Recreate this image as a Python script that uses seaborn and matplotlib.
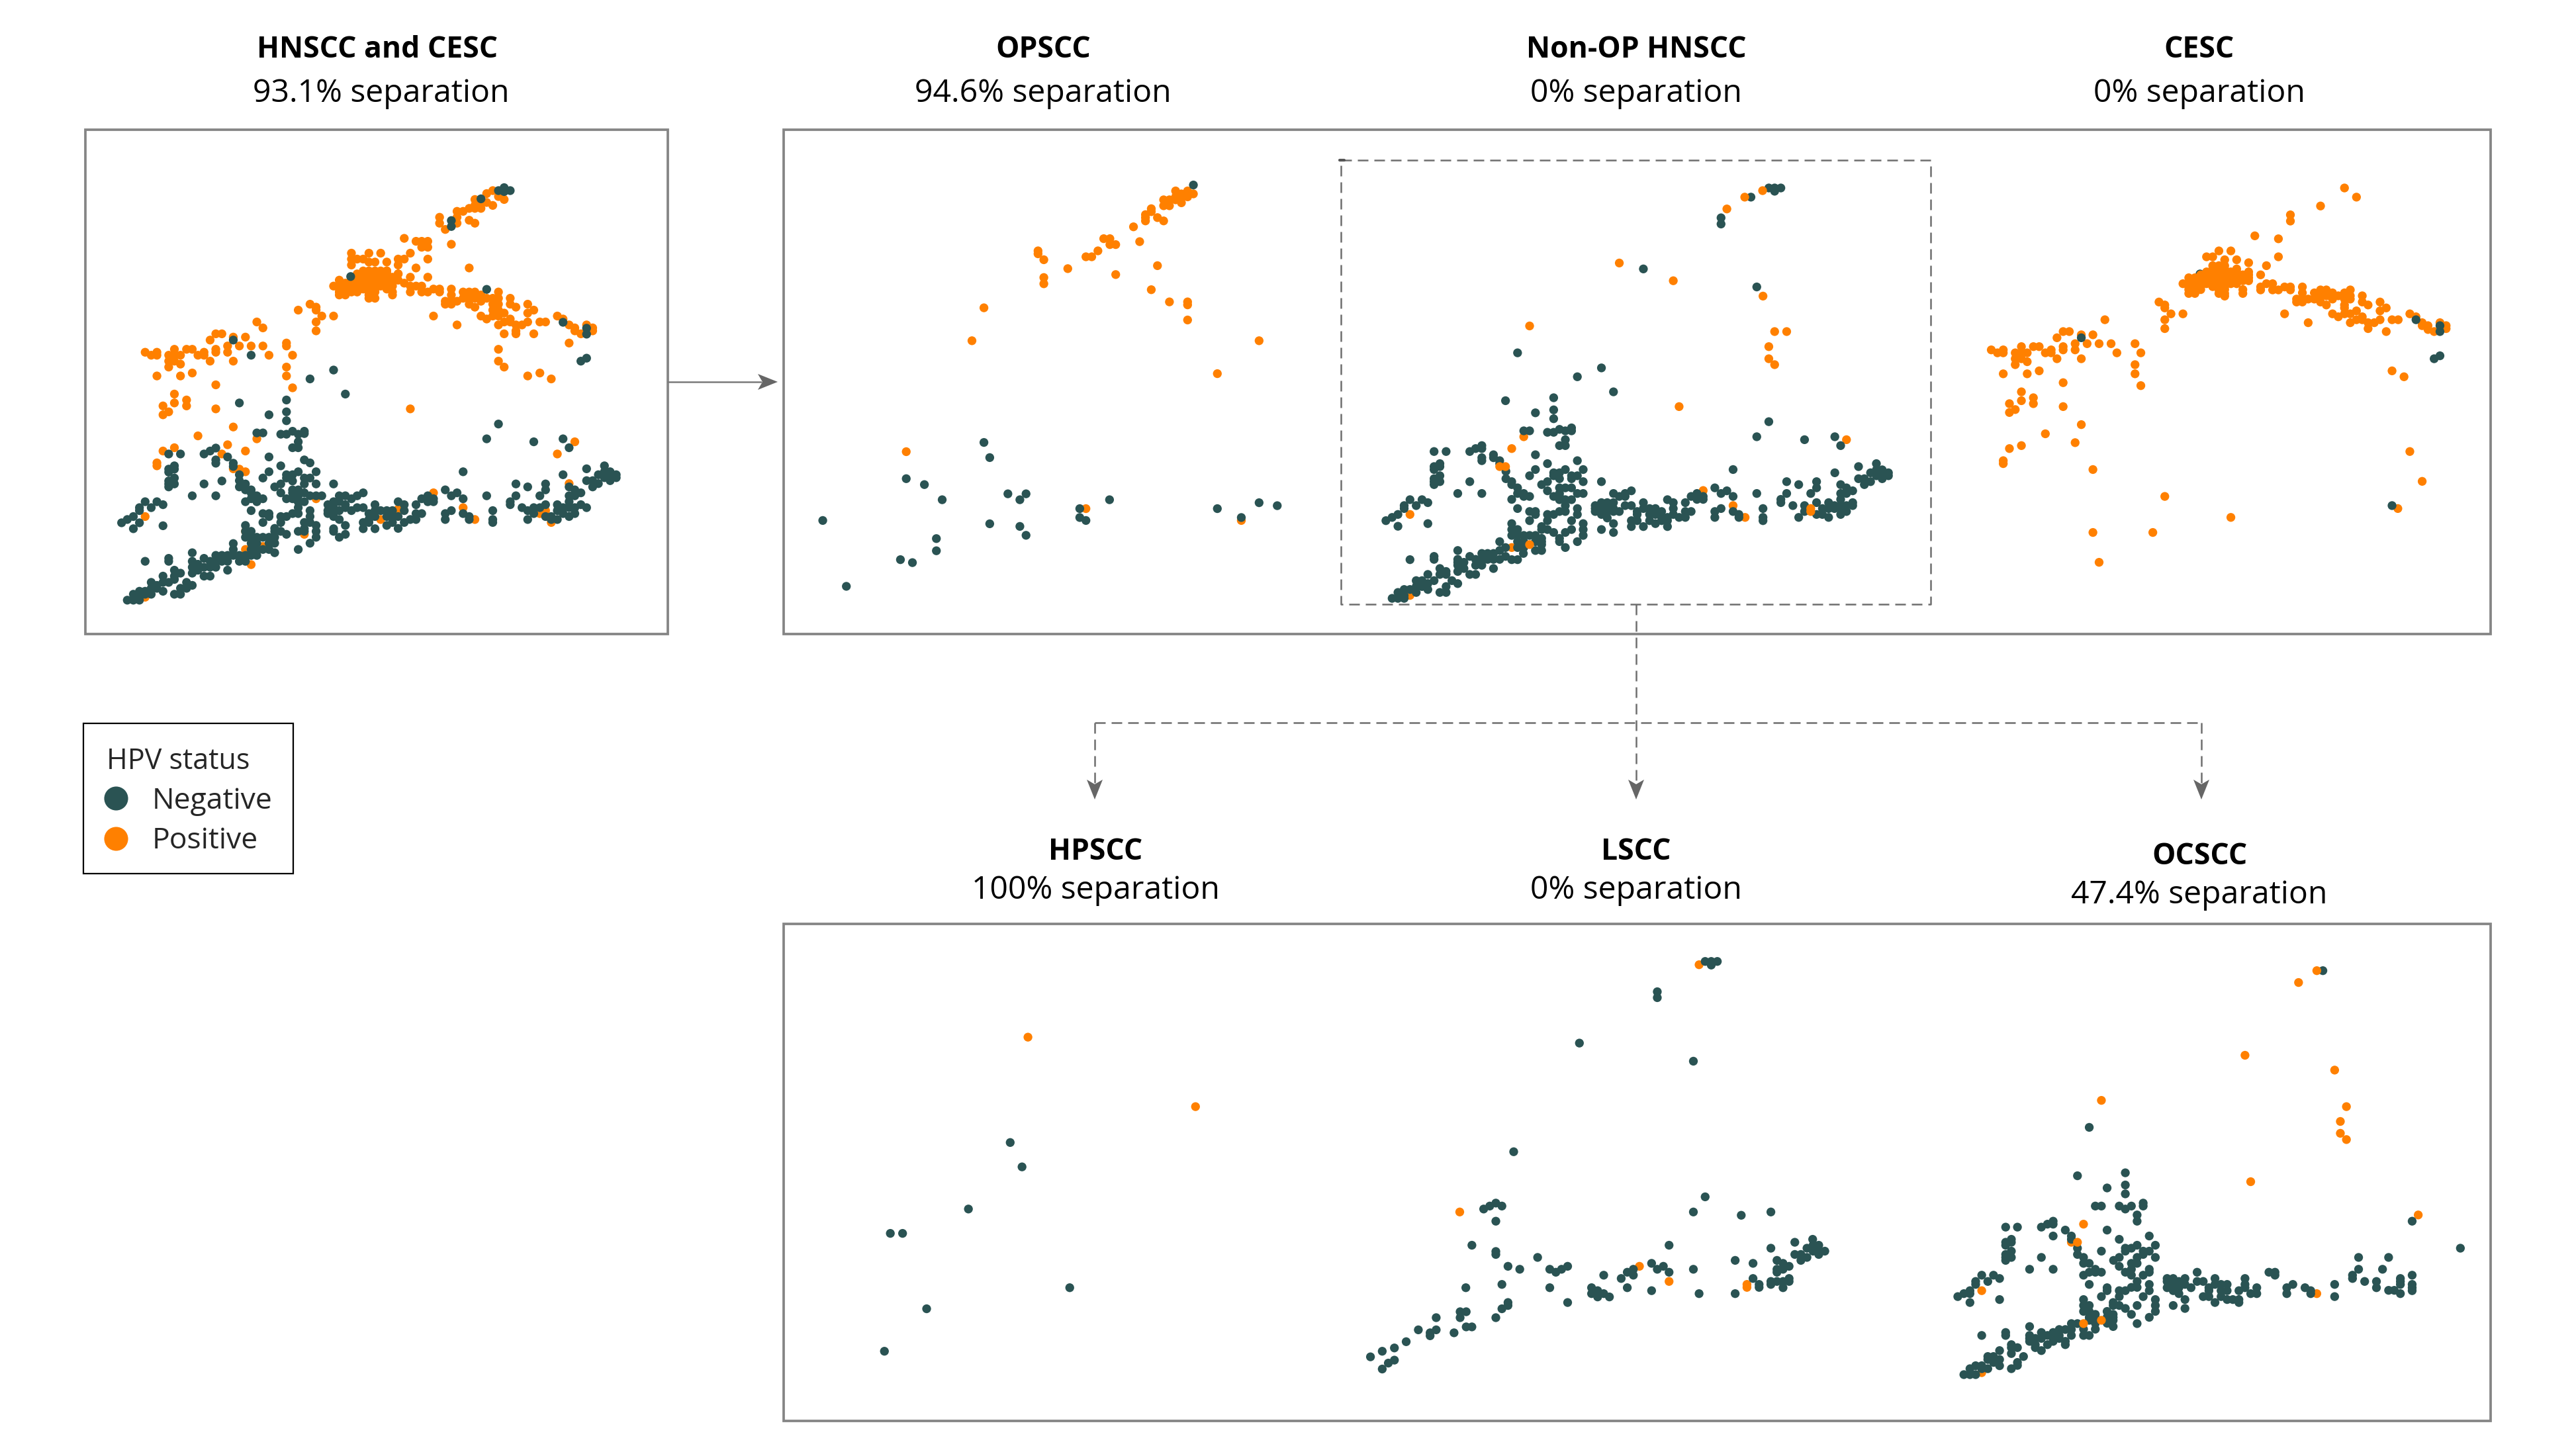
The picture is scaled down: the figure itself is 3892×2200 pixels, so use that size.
import pandas as pd
import seaborn as sns
import matplotlib.pyplot as plt
from matplotlib.lines import Line2D
from matplotlib.patches import Polygon, Rectangle

hnscc_neg = [(1103,197),(1118,188),(1118,200),(1134,197),(1057,222),(979,288),(979,306),(714,458),(1072,497),(1273,597),(1335,615),(1335,633),(1320,715),(1335,706),(405,651),(452,697),(669,742),(607,769),(700,815),(545,833),(421,842),(545,869),(499,878),(545,896),(1103,906),(467,933),(483,933),(530,937),(545,937),(561,928),(576,937),(592,928),(592,935),(1072,951),(1196,960),(1273,951),(576,960),(576,978),(561,978),(1289,978),(235,997),(266,997),(328,997),(344,988),(359,979),(359,1015),(359,1025),(390,1006),(405,1025),(405,1035),(499,1006),(530,1033),(592,1015),(607,1024),(250,1033),(235,1043),(235,1052),(250,1043),(623,1051),(1010,1051),(1335,1042),(1273,1060),(1382,1033),(1366,1060),(1382,1051),(1397,1051),(1413,1060),(1413,1069),(1397,1069),(1382,1069),(1397,1078),(1335,1078),(1351,1078),(1366,1087),(1351,1097),(250,1070),(250,1088),(235,1079),(235,1088),(235,1097),(328,1088),(375,1079),(421,1060),(421,1078),(421,1097),(437,1088),(437,1106),(452,1106),(483,1070),(499,1051),(545,1060),(561,1060),(576,1051),(545,1070),(561,1079),(592,1070),(607,1070),(592,1088),(623,1088),(514,1097),(530,1088),(530,1115),(561,1106),(561,1115),(576,1106),(592,1115),(607,1124),(623,1124),(638,1124),(545,1133),(561,1133),(576,1124),(592,1142),(576,1142),(669,1088),(1149,1088),(1227,1088),(1227,1106),(1180,1097),(1289,1097),(1304,1106),(1320,1115),(1289,1124),(1304,1124),(963,1106),(994,1115),(979,1124),(1010,1133),(1072,1124),(1149,1124),(1212,1124),(747,1115),(731,1124),(716,1133),(700,1124),(684,1124),(297,1124),(359,1124),(452,1115),(452,1133),(467,1124),(483,1133),(437,1142),(467,1142),(173,1142),(204,1142),(220,1151),(158,1160),(189,1160),(158,1169),(142,1187),(126,1196),(111,1206),(158,1206),(142,1224),(220,1215),(452,1169),(483,1178),(499,1178),(483,1205),(499,1187),(530,1187),(545,1187),(561,1178),(576,1178),(576,1160),(576,1142),(607,1169),(607,1187),(592,1205),(607,1205),(530,1205),(623,1214),(592,1224),(623,1232),(592,1232),(623,1250),(576,1232),(607,1268),(576,1287),(545,1241),(530,1232),(514,1223),(514,1232),(437,1214),(452,1232),(437,1232),(437,1250),(452,1250),(467,1250),(483,1250),(499,1250),(514,1250),(452,1268),(467,1268),(499,1268),(514,1268),(452,1287),(467,1287),(483,1287),(499,1287),(514,1297),(467,1305),(437,1305),(452,1305),(421,1305),(421,1323),(437,1323),(405,1269),(405,1287),(405,1305),(390,1305),(375,1305),(359,1305),(344,1323),(328,1314),(297,1297),(297,1323),(297,1341),(297,1359),(312,1332),(312,1350),(328,1341),(344,1341),(359,1323),(375,1323),(390,1323),(390,1350),(359,1341),(328,1368),(344,1368),(173,1323),(235,1314),(235,1323),(220,1368),(250,1350),(250,1368),(266,1359),(250,1378),(235,1387),(282,1387),(297,1396),(282,1405),(266,1405),(266,1423),(250,1423),(220,1387),(220,1414),(204,1396),(189,1387),(189,1405),(204,1405),(173,1414),(189,1423),(173,1423),(158,1414),(142,1423),(158,1432),(126,1441),(142,1441),(158,1441),(654,1151),(669,1142),(684,1142),(700,1151),(731,1160),(747,1160),(778,1151),(839,1142),(855,1151),(855,1169),(886,1151),(901,1133),(917,1124),(932,1133),(917,1142),(932,1142),(654,1169),(654,1178),(669,1160),(669,1178),(684,1169),(700,1160),(716,1169),(778,1169),(793,1169),(809,1169),(824,1169),(684,1196),(669,1187),(762,1178),(762,1196),(778,1187),(809,1187),(824,1187),(839,1187),(855,1205),(886,1178),(901,1178),(871,1196),(886,1196),(747,1205),(762,1205),(809,1214),(824,1205),(839,1223),(747,1224),(778,1224),(669,1224),(669,1232),(700,1214),(684,1250),(700,1241),(963,1178),(979,1169),(963,1196),(1010,1178),(1026,1187),(1026,1196),(1088,1169),(1088,1196),(1088,1205),(1134,1142),(1134,1151),(1165,1160),(1180,1169),(1196,1160),(1212,1160),(1227,1151),(1258,1151),(1273,1160),(1289,1142),(1289,1160),(1304,1160),(1320,1151),(1335,1160),(1196,1178),(1180,1196),(1242,1187),(1227,1187),(1258,1196),(1242,1196),(1258,1169),(1289,1187),(1304,1178),(1273,1178)]
hnscc_pos = [(1088,197),(1072,206),(1103,215),(1118,224),(1088,242),(1041,224),(1057,233),(1041,242),(1072,233),(1057,251),(1041,251),(1026,251),(1010,260),(994,260),(994,278),(948,278),(1026,287),(1041,296),(994,296),(948,296),(963,315),(855,342),(886,351),(901,351),(917,351),(901,369),(917,369),(979,360),(871,387),(793,387),(762,387),(716,387),(716,405),(731,405),(747,405),(762,414),(778,414),(809,414),(839,405),(855,405),(839,423),(716,423),(917,405),(886,432),(1026,432),(809,441),(839,450),(917,460),(871,460),(871,487),(886,487),(901,487),(871,505),(901,505),(917,505),(932,496),(948,496),(948,505),(979,496),(979,514),(979,533),(963,533),(963,542),(979,542),(994,533),(1010,505),(1010,524),(1026,505),(1041,505),(1026,524),(1041,524),(1057,514),(1072,524),(1088,524),(1103,505),(1103,524),(1103,542),(1088,542),(1103,560),(1088,560),(1026,542),(1041,551),(1057,533),(1134,524),(1134,542),(1149,551),(1180,542),(1196,560),(1180,569),(932,578),(1057,578),(1072,587),(1088,578),(1118,569),(1103,578),(1118,596),(1103,605),(1134,587),(1134,596),(1149,605),(1165,605),(1180,596),(1212,596),(1227,596),(994,605),(1118,632),(1149,623),(1149,632),(1196,632),(1258,578),(1273,587),(1289,605),(1304,614),(1304,623),(1320,632),(1335,605),(1351,614),(1351,623),(1289,660),(1103,679),(1103,715),(1118,733),(1180,760),(1212,751),(1242,769),(576,560),(607,542),(623,551),(623,560),(638,578),(669,578),(623,596),(623,623),(467,596),(483,614),(359,632),(375,632),(344,651),(405,642),(437,642),(390,669),(421,669),(452,669),(483,669),(545,660),(545,669),(173,688),(189,697),(204,688),(204,697),(250,679),(282,679),(297,679),(235,697),(250,697),(266,697),(312,697),(328,688),(328,697),(359,679),(359,688),(390,688),(499,697),(561,697),(235,715),(250,715),(235,733),(266,724),(344,715),(405,715),(204,760),(266,760),(297,751),(545,733),(545,760),(359,787),(561,796),(250,815),(282,833),(282,851),(250,842),(220,851),(235,869),(220,878),(359,860),(871,860),(405,915),(312,942),(467,951),(390,969),(250,978),(220,988),(437,988),(375,997),(204,1024),(204,1033),(405,1042),(421,1043),(437,1051),(1304,960),(1258,997),(1289,1087),(932,1115),(623,1133),(1010,1160),(1227,1169),(173,1187),(1212,1178),(793,1196),(839,1165),(1041,1196),(1242,1205),(592,1241),(437,1287),(483,1278),(452,1333),(173,1432),(437,1232)]
hnscc_core = {441:[747,762,778,793,809], 450:[731,747,762,778,793,809,839], 460:[716,731,747,762,778,793,809,824],
              469:[684,716,731,747,762,778,793,809,824,839], 478:[700,716,731,747,762,778,793,809,824,855],
              487:[669,684,700,716,731,747,762,778,793,809,824], 496:[684,700,716,731,747,762,778,809],
              505:[684,716,731,762,778,824], 514:[684,700,762,824], 524:[778,762]}

opscc_neg = [(1136,180),(559,962),(575,1008),(345,1072),(395,1090),(444,1136),(625,1118),(675,1118),(658,1136),(823,1163),(905,1136),(823,1190),(840,1199),(1202,1163),(1268,1190),(1317,1145),(1367,1154),(115,1199),(575,1209),(658,1217),(675,1244),(428,1254),(428,1291),(329,1318),(362,1327),(180,1399)]
opscc_pos = [(1087,198),(1120,198),(1103,207),(1136,207),(1087,216),(1120,216),(1054,225),(1070,225),(1103,216),(1087,225),(1054,243),(1070,243),(1103,234),(1020,252),(1020,261),(1004,270),(1004,279),(1037,279),(1004,289),(1054,289),(971,307),(889,343),(906,343),(906,361),(922,361),(988,352),(873,380),(708,380),(708,389),(840,398),(856,398),(724,407),(1037,425),(790,434),(922,452),(724,461),(724,480),(1020,498),(1070,535),(1120,535),(1120,544),(559,553),(1120,590),(526,653),(1317,653),(1202,753),(345,990),(840,1163),(1268,1199)]

nonop_neg = [(1112,121),(1127,121),(1143,121),(1127,132),(1066,152),(989,222),(989,243),(789,395),(1081,456),(465,679),(681,730),(619,760),(712,811),(558,831),(434,841),(558,872),(511,882),(558,902),(1112,912),(481,943),(496,943),(542,948),(558,948),(573,938),(588,943),(604,933),(604,943),(1081,963),(1204,973),(1282,963),(588,973),(573,993),(588,993),(1297,993),(250,1013),(281,1013),(342,1013),(357,1003),(373,993),(373,1003),(373,1034),(373,1044),(403,1024),(403,1034),(419,1044),(419,1054),(511,1024),(619,1044),(542,1054),(265,1054),(250,1064),(265,1064),(250,1074),(1020,1074),(1343,1064),(1389,1054),(1374,1085),(1389,1075),(1404,1075),(1420,1085),(1420,1095),(1404,1085),(1389,1095),(1404,1105),(1282,1085),(435,1080),(435,1105),(511,1074),(558,1085),(573,1085),(588,1074),(634,1074),(558,1095),(573,1105),(604,1095),(619,1095),(604,1105),(496,1095),(265,1095),(250,1105),(265,1115),(250,1115),(250,1125),(342,1115),(681,1115),(450,1115),(542,1115),(527,1125),(634,1115),(1158,1115),(1235,1115),(1343,1105),(1358,1105),(1374,1115),(1358,1125),(1189,1125),(1235,1136),(1297,1125),(1312,1136),(1328,1146),(1297,1155),(1312,1155),(973,1136),(1004,1146),(989,1155),(1020,1165),(1081,1155),(1158,1155),(1220,1155),(758,1146),(742,1155),(727,1165),(712,1155),(742,1165),(311,1155),(373,1155),(465,1136),(450,1125),(465,1155),(481,1155),(496,1165),(481,1165),(450,1175),(573,1136),(588,1136),(542,1146),(604,1136),(573,1155),(558,1165),(573,1165),(573,1176),(588,1176),(619,1155),(634,1155),(604,1176),(188,1176),(219,1176),(234,1186),(173,1196),(204,1196),(173,1206),(157,1226),(142,1236),(126,1247),(157,1266),(234,1257),(465,1206),(496,1216),(511,1216),(511,1226),(496,1247),(542,1226),(558,1226),(573,1216),(588,1216),(588,1196),(619,1206),(619,1226),(542,1247),(604,1247),(634,1257),(634,1277),(634,1297),(604,1277),(588,1287),(619,1318),(588,1338),(558,1287),(542,1277),(527,1267),(527,1277),(450,1257),(450,1277),(465,1277),(450,1297),(465,1297),(481,1297),(496,1297),(511,1297),(527,1307),(527,1318),(465,1318),(481,1318),(511,1318),(527,1328),(573,1307),(573,1318),(465,1338),(481,1338),(511,1348),(527,1348),(480,1358),(419,1318),(434,1338),(419,1348),(403,1358),(388,1358),(373,1358),(419,1378),(403,1378),(450,1379),(465,1379),(434,1368),(311,1348),(188,1379),(250,1368),(250,1378),(342,1368),(311,1378),(311,1388),(311,1398),(327,1388),(357,1378),(373,1378),(388,1378),(327,1409),(357,1398),(373,1398),(403,1409),(311,1419),(342,1429),(357,1429),(234,1429),(265,1409),(281,1419),(265,1429),(281,1429),(250,1450),(234,1460),(296,1450),(311,1460),(281,1470),(265,1490),(281,1490),(204,1450),(219,1450),(204,1470),(234,1480),(219,1470),(188,1480),(204,1490),(173,1480),(157,1490),(173,1500),(142,1510),(157,1510),(173,1510),(665,1196),(681,1186),(696,1186),(712,1186),(665,1206),(681,1206),(696,1206),(712,1206),(665,1216),(681,1216),(696,1216),(712,1216),(727,1216),(742,1196),(758,1196),(789,1186),(681,1226),(696,1238),(712,1257),(681,1277),(712,1287),(758,1247),(758,1267),(773,1216),(773,1226),(773,1247),(789,1206),(805,1206),(820,1206),(836,1216),(851,1176),(866,1186),(866,1206),(805,1226),(820,1226),(836,1236),(851,1236),(866,1226),(805,1247),(820,1257),(836,1247),(851,1247),(851,1267),(789,1267),(881,1236),(897,1186),(897,1216),(912,1216),(897,1236),(912,1165),(927,1155),(943,1165),(927,1175),(943,1175),(973,1216),(989,1206),(973,1236),(1020,1216),(1035,1226),(1035,1236),(1097,1206),(1097,1236),(1097,1247),(1143,1175),(1143,1186),(1174,1196),(1204,1196),(1204,1216),(1189,1236),(1235,1186),(1235,1226),(1250,1206),(1250,1226),(1266,1186),(1281,1196),(1297,1175),(1297,1196),(1312,1196),(1328,1186),(1328,1196),(1266,1206),(1281,1206),(1297,1206),(1312,1216),(1297,1226),(1266,1236)]
nonop_pos = [(1004,192),(727,375),(866,435),(1097,487),(496,588),(1127,607),(1158,607),(1112,658),(1112,699),(1127,719),(881,861),(481,963),(450,1003),(1312,973),(943,1145),(1020,1196),(188,1226),(1051,1236),(450,1338),(188,1500)]
nonop_top = [(1050,152),(1096,130),(419,1064),(434,1064),(1220,1206),(1220,1216),(496,1328)]

cesc_neg = [(373,628),(1295,567),(1361,587),(1361,607),(1345,699),(1361,689),(1229,1196)]
cesc_under = [(700,412)]
cesc_pos = [(1098,121),(1131,152),(1032,182),(949,212),(949,233),(851,283),(916,293),(752,334),(785,334),(718,354),(735,354),(768,364),(801,364),(916,354),(834,374),(883,384),(867,415),(768,487),(867,456),(867,466),(883,445),(900,445),(900,466),(916,466),(933,456),(949,456),(949,466),(982,456),(982,476),(982,497),(966,497),(966,507),(982,507),(998,497),(1015,476),(1015,497),(1032,466),(1032,486),(1048,466),(1048,486),(1032,507),(1048,517),(1065,476),(1065,497),(1081,486),(1098,476),(1098,497),(1114,466),(1114,486),(1114,497),(1098,517),(1098,527),(1114,547),(1098,547),(1147,486),(1147,507),(1163,517),(1196,507),(1213,527),(1196,537),(933,547),(1065,547),(1081,557),(1131,537),(1147,557),(1131,567),(1114,577),(1147,567),(1163,577),(1180,577),(1196,567),(1229,567),(1246,567),(998,577),(1163,597),(1213,607),(1278,547),(1295,557),(1312,577),(1312,587),(1328,587),(1328,600),(1345,607),(1361,577),(1378,587),(1378,597),(587,507),(603,517),(603,527),(620,547),(653,547),(603,567),(603,597),(438,567),(323,607),(340,607),(373,618),(405,618),(306,628),(356,648),(389,648),(422,648),(455,648),(521,648),(125,669),(142,679),(158,669),(158,679),(208,658),(241,658),(257,658),(191,679),(208,679),(224,679),(274,679),(290,669),(290,679),(323,658),(323,669),(356,669),(471,679),(537,679),(191,699),(208,699),(191,719),(224,709),(306,699),(373,699),(521,719),(158,750),(224,750),(257,740),(521,750),(323,780),(537,790),(208,811),(241,831),(241,851),(208,841),(175,851),(191,871),(175,881),(323,861),(373,922),(274,953),(356,983),(208,993),(175,1003),(158,1044),(158,1054),(405,1074),(1229,740),(1262,760),(1278,1013),(1312,1114),(1245,1206),(603,1165),(785,1236),(405,1287),(570,1287),(422,1388)]
cesc_core = {384:[735,752,768], 395:[735,752,768,801], 405:[718,735,752,768,785,801,834], 415:[702,718,735,752,768,785,801,818,834],
             425:[669,686,702,718,735,752,768,785,801,818,834], 435:[686,702,718,735,752,768,785,801,818,834],
             445:[653,669,686,702,718,735,752,768,785,801], 455:[669,686,702,735,752,768], 465:[669,686,702,752,768,818], 478:[669,686,752,768,818]}

hpscc_neg = [(543,656),(571,730),(444,858),(259,932),(288,932),(684,1097),(345,1161),(245,1290)]
hpscc_pos = [(585,336),(982,547)]

lscc_neg = [(1004,106),(1020,106),(1036,106),(1020,117),(878,198),(878,216),(673,354),(973,409),(500,684),(1004,821),(421,858),(437,849),(453,840),(469,849),(453,895),(973,867),(1099,877),(1177,867),(1287,950),(1240,959),(390,968),(909,968),(1177,977),(1272,977),(1288,968),(1303,968),(1288,986),(1303,986),(1319,986),(1303,996),(1240,996),(1256,996),(1272,1005),(1256,1014),(453,987),(453,996),(563,1005),(1083,1014),(1193,1014),(1130,1023),(1209,1023),(1225,1032),(485,1032),(516,1041),(595,1041),(611,1050),(626,1041),(642,1032),(863,1023),(894,1032),(878,1041),(815,1041),(799,1050),(909,1050),(973,1041),(1193,1041),(1209,1041),(1193,1050),(737,1059),(815,1059),(783,1069),(1130,1069),(1225,1069),(1177,1078),(1193,1078),(1209,1078),(1225,1078),(1177,1087),(1146,1087),(1146,1096),(469,1087),(374,1097),(595,1097),(705,1097),(799,1097),(1209,1097),(721,1106),(863,1106),(705,1115),(721,1115),(737,1115),(988,1115),(1083,1115),(721,1125),(752,1125),(642,1142),(485,1142),(485,1151),(469,1161),(359,1170),(375,1170),(296,1188),(359,1188),(453,1188),(375,1216),(390,1216),(249,1225),(296,1225),(280,1234),(343,1234),(280,1243),(217,1261),(186,1280),(154,1290),(123,1307),(186,1317),(170,1326),(154,1344)]
lscc_pos = [(988,116),(358,867),(831,1032),(909,1078),(1114,1087),(1114,1096)]

ocscc_neg = [(1062,134),(447,610),(542,748),(416,757),(542,785),(494,794),(542,812),(526,849),(542,858),(558,849),(589,840),(589,849),(463,849),(479,849),(573,876),(573,895),(1297,895),(227,913),(258,913),(321,913),(337,904),(352,895),(352,904),(384,922),(400,940),(400,950),(494,922),(526,950),(352,940),(242,950),(227,959),(242,959),(227,968),(605,940),(573,968),(621,968),(558,977),(542,977),(542,986),(416,977),(416,996),(1424,977),(479,986),(589,986),(605,986),(589,996),(573,1005),(621,1005),(242,986),(242,1005),(227,996),(227,1005),(227,1014),(321,1005),(432,1005),(526,1005),(511,1014),(432,1023),(447,1023),(573,1023),(558,1023),(526,1032),(1156,1005),(1235,1005),(290,1041),(352,1041),(463,1041),(447,1050),(463,1050),(479,1050),(432,1059),(1156,1041),(1219,1041),(731,1050),(542,1050),(558,1041),(558,1059),(605,1041),(605,1050),(589,1059),(920,1050),(936,1050),(936,1059),(164,1059),(195,1059),(211,1069),(180,1078),(148,1078),(148,1087),(1140,1059),(1140,1069),(1172,1078),(1203,1078),(1203,1097),(1266,1069),(1266,1078),(1266,1087),(1297,1059),(1297,1087),(1297,1097),(1297,1106),(1235,1105),(1250,1105),(1266,1115),(573,1078),(573,1096),(558,1096),(447,1087),(605,1087),(605,1106),(494,1097),(494,1106),(542,1106),(526,1106),(526,1124),(479,1124),(589,1124),(133,1106),(117,1115),(101,1124),(133,1115),(133,1142),(211,1133),(652,1069),(668,1069),(652,1078),(668,1087),(652,1097),(683,1078),(699,1069),(699,1087),(715,1097),(731,1078),(747,1078),(778,1069),(778,1087),(794,1087),(810,1087),(683,1097),(668,1106),(683,1115),(762,1097),(762,1106),(794,1106),(810,1106),(857,1069),(857,1087),(857,1097),(841,1106),(888,1097),(888,1115),(872,1115),(747,1124),(762,1124),(794,1124),(810,1133),(825,1133),(841,1133),(841,1142),(778,1142),(699,1133),(668,1151),(699,1160),(967,1097),(983,1087),(967,1115),(1015,1097),(1030,1106),(1030,1115),(1093,1087),(1093,1124),(432,1133),(432,1151),(447,1151),(432,1169),(447,1169),(463,1178),(447,1187),(463,1187),(447,1196),(463,1205),(463,1223),(494,1169),(510,1142),(510,1151),(526,1151),(542,1160),(573,1151),(558,1178),(621,1133),(621,1151),(621,1169),(605,1187),(573,1206),(510,1178),(510,1187),(494,1187),(494,1205),(510,1196),(510,1215),(400,1206),(416,1206),(432,1223),(432,1242),(447,1242),(400,1224),(400,1242),(384,1224),(368,1224),(352,1233),(321,1233),(290,1215),(290,1242),(290,1251),(290,1260),(305,1251),(321,1251),(337,1242),(352,1251),(368,1242),(368,1251),(384,1260),(384,1270),(305,1270),(337,1270),(352,1260),(321,1288),(305,1279),(164,1242),(227,1233),(227,1242),(211,1288),(242,1270),(242,1279),(258,1279),(242,1297),(274,1306),(258,1324),(258,1333),(242,1343),(180,1306),(195,1306),(180,1315),(211,1315),(195,1324),(211,1334),(180,1343),(164,1334),(148,1334),(133,1343),(117,1361),(133,1361),(148,1361),(164,1343)]
ocscc_pos = [(998,170),(857,391),(1093,436),(479,528),(1124,547),(1108,592),(1108,628),(1124,647),(872,775),(1313,876),(432,904),(400,959),(164,1106),(1046,1115),(164,1355)]
ocscc_top = [(1046,134),(416,959),(432,1206),(479,1196)]

# expand the dense orange blobs
hnscc_pos += [(x, y) for y, xs in hnscc_core.items() for x in xs]
cesc_pos += [(x, y) for y, xs in cesc_core.items() for x in xs]

NEG = '#2A5353'
POS = '#FF8000'
FRAME = '#858585'
DASH = '#6E6E6E'
W, H = 3892, 2200
palette = {'Negative': NEG, 'Positive': POS}

sns.set_theme(style='white')
plt.rcParams['font.family'] = ['Open Sans', 'DejaVu Sans']
fig = plt.figure(figsize=(W / 100, H / 100), dpi=100, facecolor='white')

# overlay in reference pixels for frames, arrows and headings
over = fig.add_axes([0, 0, 1, 1])
over.set_xlim(0, W)
over.set_ylim(H, 0)
over.axis('off')


def frame(x0, y0, x1, y1, color=FRAME, lw=2.7):
    over.add_patch(Rectangle((x0, y0), x1 - x0, y1 - y0, fill=False, ec=color, lw=lw))


def dashed(xs, ys):
    over.plot(xs, ys, color=DASH, lw=1.8, dashes=(6.4, 3.6), solid_capstyle='butt')


def head(x, y, dx, dy):
    # stealth head with its tip at x, y pointing along dx, dy
    px, py = -dy, dx
    pts = [(x, y), (x - 30 * dx + 12 * px, y - 30 * dy + 12 * py),
           (x - 23 * dx, y - 23 * dy), (x - 30 * dx - 12 * px, y - 30 * dy - 12 * py)]
    over.add_patch(Polygon(pts, closed=True, fc='#666666', ec='none'))


def heading(x1, y1, title, x2, y2, sub):
    over.text(x1, y1, title, ha='center', va='baseline', fontsize=32, fontweight='bold', color='black')
    over.text(x2, y2, sub, ha='center', va='baseline', fontsize=34.7, color='black')


def panel(crop, neg, pos, top=(), under=()):
    x, y, w, h = crop
    ax = fig.add_axes([x / W, 1 - (y + h) / H, w / W, h / H], facecolor='none')
    rows = [(p, 'Negative') for p in under] + [(p, 'Positive') for p in pos] \
        + [(p, 'Negative') for p in neg] + [(p, 'Positive') for p in top]
    df = pd.DataFrame({'x': [r[0][0] for r in rows], 'y': [r[0][1] for r in rows], 'status': [r[1] for r in rows]})
    sns.scatterplot(data=df, x='x', y='y', hue='status', palette=palette, s=92, linewidth=0, legend=False, ax=ax)
    ax.set_xlim(0, 1568)
    ax.set_ylim(1568, 0)
    ax.axis('off')


frame(129, 196, 1009, 958)
frame(1184, 196, 3763, 958)
frame(1184, 1396, 3763, 2147)
frame(126, 1093, 443, 1320, color='black', lw=1.6)

dashed([2026, 2917, 2917, 2026, 2026], [242, 242, 913, 913, 242])
over.plot([2024, 2031], [242, 242], color='#555555', lw=3)
dashed([2472, 2472], [913, 1183])
dashed([1654, 3326], [1092, 1092])
dashed([1654, 1654], [1092, 1183])
dashed([3326, 3326], [1092, 1183])
head(1654, 1208, 0, 1)
head(2472, 1208, 0, 1)
head(3326, 1208, 0, 1)
over.plot([1009, 1150], [577, 577], color='#7A7A7A', lw=1.8)
head(1175, 577, 1, 0)

heading(570, 87, 'HNSCC and CESC', 576, 154, '93.1% separation')
heading(1576, 87, 'OPSCC', 1576, 154, '94.6% separation')
heading(2472, 87, 'Non-OP HNSCC', 2472, 154, '0% separation')
heading(3323, 87, 'CESC', 3323, 154, '0% separation')
heading(1655, 1299, 'HPSCC', 1655, 1358, '100% separation')
heading(2472, 1299, 'LSCC', 2472, 1358, '0% separation')
heading(3323, 1306, 'OCSCC', 3323, 1365, '47.4% separation')

panel((120, 190, 900, 780), hnscc_neg, hnscc_pos)
panel((1180, 190, 860, 780), opscc_neg, opscc_pos)
panel((2020, 230, 920, 700), nonop_neg, nonop_pos, top=nonop_top)
panel((2940, 230, 860, 700), cesc_neg, cesc_pos, under=cesc_under)
panel((1180, 1400, 1000, 780), hpscc_neg, hpscc_pos)
panel((2000, 1400, 900, 780), lscc_neg, lscc_pos)
panel((2900, 1400, 900, 780), ocscc_neg, ocscc_pos, top=ocscc_top)

handles = [Line2D([], [], marker='o', ls='', color=palette[k], markersize=26, markeredgewidth=0, label=k) for k in palette]
over.legend(handles=handles, title='HPV status', loc='upper left', bbox_to_anchor=(161, 1128),
            bbox_transform=over.transData, fontsize=32, title_fontsize=31, alignment='left',
            frameon=False, borderpad=0, labelspacing=0.36, handletextpad=0.92, handlelength=0.63, borderaxespad=0)

fig.savefig('out.png', dpi=100)
